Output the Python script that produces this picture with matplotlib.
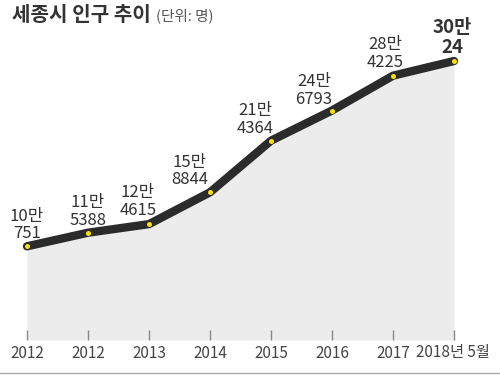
import numpy as np
import matplotlib
matplotlib.use('Agg')
import matplotlib.pyplot as plt
from matplotlib.lines import Line2D

plt.rcParams['font.family'] = ['Noto Sans CJK KR', 'DejaVu Sans']

# data
years = ['2012', '2012', '2013', '2014', '2015', '2016', '2017', '2018년 5월']
population = [100751, 115388, 124615, 158844, 214364, 246793, 284225, 300024]
labels = ['10만\n751', '11만\n5388', '12만\n4615', '15만\n8844',
          '21만\n4364', '24만\n6793', '28만\n4225', '30만\n24']
# label offsets in pixels (dx, dy)
offsets = [(0, 4), (0, 4), (-11, 5), (-20, 4), (-16, 4), (-18, 3), (-8, 5), (-2, 4)]

W, H = 500, 392
fig = plt.figure(figsize=(W / 100, H / 100), dpi=100)

# axes: x=0 at px 27, step 61 px; y=0 at py 340, 300024 at py 61
base_py = 340
k = (base_py - 61) / population[-1]
ax = fig.add_axes([0, (H - base_py) / H, 1, base_py / H])
x = np.arange(len(years))
ax.set_xlim(-27 / 61, (W - 27) / 61)
ax.set_ylim(0, base_py / k)
ax.axis('off')

ax.fill_between(x, population, 0, color='#ececec', lw=0, clip_on=False)
ax.plot(x, population, color='#2b2b2b', lw=6, solid_capstyle='round',
        solid_joinstyle='round', clip_on=False, zorder=3)
ax.plot(x, population, 'o', color='#ffe100', ms=3.6, mew=0, zorder=4, clip_on=False)

# ticks and labels
ax.vlines(x, 0, 10 / k, color='#888888', lw=1, clip_on=False)
for xi, yr in zip(x, years):
    ax.annotate(yr, (xi, 0), xytext=(-1 if yr.endswith('월') else 0, -13),
                textcoords='offset pixels', ha='center', va='center',
                fontsize=11, color='#444444', annotation_clip=False)

for i, (lab, (dx, dy)) in enumerate(zip(labels, offsets)):
    last = i == len(labels) - 1
    ax.annotate(lab, (x[i], population[i]), xytext=(dx, dy),
                textcoords='offset pixels', ha='center', va='bottom',
                fontsize=13.5 if last else 12, fontweight='bold' if last else 'normal',
                color='#333333', linespacing=1.05, annotation_clip=False)

# title
fig.text(12 / W, 1 - 21 / H, '세종시 인구 추이', fontsize=14.5, fontweight='bold',
         color='#333333', va='baseline', ha='left')
fig.text(156 / W, 1 - 20 / H, '(단위: 명)', fontsize=10.5, color='#555555',
         va='baseline', ha='left')

# bottom rule
fig.add_artist(Line2D([0, 1], [1 - 372.5 / H] * 2, transform=fig.transFigure,
                      color='#aaaaaa', lw=1))

plt.savefig('out.png', dpi=100)
plt.close()
